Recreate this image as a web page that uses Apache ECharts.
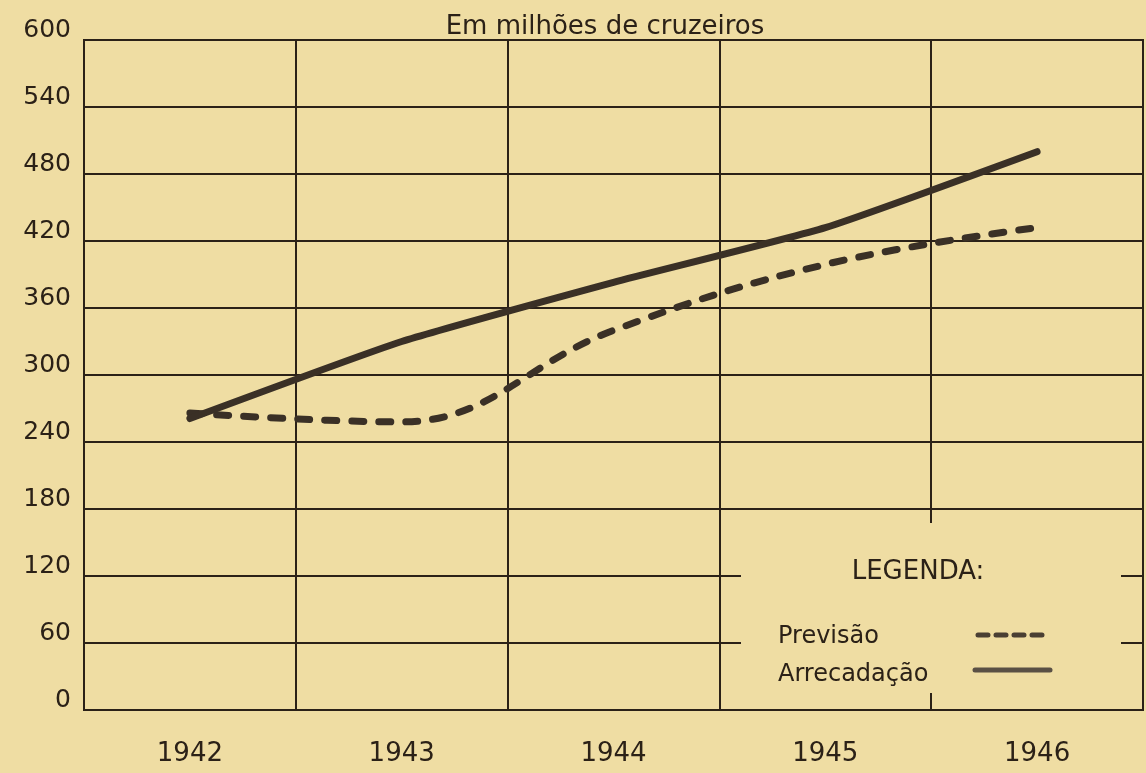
<!DOCTYPE html>
<html>
<head>
<meta charset="utf-8">
<script src="https://cdn.jsdelivr.net/npm/echarts@6/dist/echarts.min.js"></script>
<style>
html,body{margin:0;padding:0;background:#efdda3;}
#chart{width:1146px;height:773px;}
</style>
</head>
<body>
<div id="chart"></div>
<script>
const years = ['1942', '1943', '1944', '1945', '1946'];
const previsao = [266, 258, 340, 399, 432];
const arrecadacao = [261, 330, 383, 432, 500];
const yTicks = [0, 60, 120, 180, 240, 300, 360, 420, 480, 540, 600];
const title = 'Em milhões de cruzeiros';
const legendTitle = 'LEGENDA:';
const seriesNames = ['Previsão', 'Arrecadação'];

const ink = '#2b2117';
const lineInk = '#3a3026';
const bg = '#efdda3';
const font = 'DejaVu Sans';

const chart = echarts.init(document.getElementById('chart'), null, {renderer: 'canvas'});
chart.setOption({
  backgroundColor: bg,
  animation: false,
  title: {
    text: title, left: 600, top: 9, textAlign: 'center',
    textStyle: {fontFamily: font, fontSize: 26, fontWeight: 'normal', color: ink}
  },
  grid: {left: 84, right: 3, top: 40, bottom: 63, show: true, borderColor: ink, borderWidth: 2, backgroundColor: 'transparent'},
  xAxis: {
    type: 'category', data: years, boundaryGap: true,
    axisLine: {show: true, lineStyle: {color: ink, width: 2}},
    axisTick: {show: false},
    splitLine: {show: true, lineStyle: {color: ink, width: 2}},
    axisLabel: {fontFamily: font, fontSize: 26, color: ink, margin: 31}
  },
  yAxis: {
    type: 'value', min: 0, max: 600, interval: 60,
    axisLine: {show: true, lineStyle: {color: ink, width: 2}},
    axisTick: {show: false},
    splitLine: {show: true, lineStyle: {color: ink, width: 2}},
    axisLabel: {fontFamily: font, fontSize: 25, color: ink, margin: 13, verticalAlign: 'bottom', lineHeight: 20,
      formatter: v => yTicks.includes(v) ? String(v) : ''}
  },
  graphic: [
    {type: 'rect', z: 50, shape: {x: 741, y: 523, width: 380, height: 170}, style: {fill: bg}},
    {type: 'text', z: 51, x: 918, y: 572, style: {text: legendTitle, fontFamily: font, fontSize: 26, fill: ink, align: 'center', verticalAlign: 'middle'}},
    {type: 'text', z: 51, x: 778, y: 637, style: {text: seriesNames[0], fontFamily: font, fontSize: 24, fill: ink, verticalAlign: 'middle'}},
    {type: 'text', z: 51, x: 778, y: 675, style: {text: seriesNames[1], fontFamily: font, fontSize: 24, fill: ink, verticalAlign: 'middle'}},
    {type: 'line', z: 51, shape: {x1: 978, y1: 635, x2: 1048, y2: 635}, style: {stroke: '#4a3f33', lineWidth: 5, lineDash: [10, 8], lineCap: 'round'}},
    {type: 'line', z: 51, shape: {x1: 975, y1: 670, x2: 1050, y2: 670}, style: {stroke: '#5a5045', lineWidth: 5, lineCap: 'round'}}
  ],
  series: [
    {
      name: seriesNames[0], type: 'line', data: previsao, smooth: 0.4,
      symbol: 'none', z: 3,
      lineStyle: {color: lineInk, width: 7, type: [12, 15], cap: 'round'}
    },
    {
      name: seriesNames[1], type: 'line', data: arrecadacao, smooth: 0.15,
      symbol: 'none', z: 4,
      lineStyle: {color: lineInk, width: 7, cap: 'round'}
    }
  ]
});
</script>
</body>
</html>
